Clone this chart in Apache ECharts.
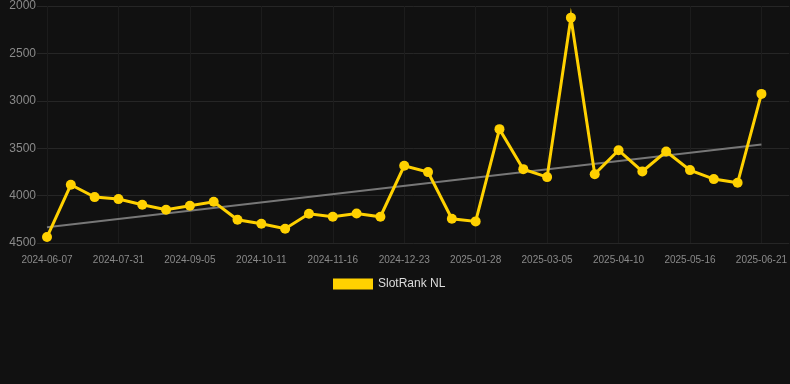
<!DOCTYPE html>
<html>
<head>
<meta charset="utf-8">
<script src="https://cdn.jsdelivr.net/npm/echarts@6/dist/echarts.min.js"></script>
<style>
html,body{margin:0;padding:0;background:#111111}
#chart{width:790px;height:384px}
</style>
</head>
<body>
<div id="chart"></div>
<script>
// categories (one per point)
let dates = [
	"2024-06-07","2024-07-07","2024-07-19","2024-07-31","2024-08-12","2024-08-24",
	"2024-09-05","2024-09-17","2024-09-29","2024-10-11","2024-10-23","2024-11-04",
	"2024-11-16","2024-11-28","2024-12-11","2024-12-23","2025-01-04","2025-01-16",
	"2025-01-28","2025-02-09","2025-02-21","2025-03-05","2025-03-17","2025-03-29",
	"2025-04-10","2025-04-22","2025-05-04","2025-05-16","2025-05-28","2025-06-09",
	"2025-06-21"
]
// rank values
let ranks = [
	4437, 3886, 4016, 4037, 4097, 4149, 4107, 4065, 4255, 4297, 4350,
	4191, 4223, 4188, 4223, 3686, 3752, 4244, 4272, 3299, 3721, 3805,
	2123, 3774, 3521, 3745, 3535, 3731, 3826, 3865, 2927
]
// trend line ends
let trendStart = 4335
let trendEnd = 3461
// axis ticks
let yTicks = [2000, 2500, 3000, 3500, 4000, 4500]
let xTickIdx = [0, 3, 6, 9, 12, 15, 18, 21, 24, 27, 30]

let chart = echarts.init(document.getElementById("chart"))
chart.setOption({
	backgroundColor: "#111111",
	animation: false,
	grid: {
		left: 37,
		right: 0,
		top: 6,
		bottom: 141
	},
	legend: {
		top: 273,
		left: 328,
		itemWidth: 40,
		itemHeight: 11,
		itemGap: 6,
		data: [{ name: "SlotRank NL", icon: "rect" }],
		textStyle: { color: "#dddddd", fontSize: 12, fontFamily: "Liberation Sans" }
	},
	xAxis: {
		type: "value",
		min: -0.42,
		max: 31.17,
		axisLine: { show: false },
		axisTick: { show: false, customValues: xTickIdx },
		splitLine: { show: true, lineStyle: { color: "#1c1c1c", width: 1 } },
		axisLabel: {
			customValues: xTickIdx,
			color: "#8a8a8a",
			fontSize: 10,
			fontFamily: "Liberation Sans",
			margin: 12,
			formatter(v) {
				return dates[Math.round(v)]
			}
		}
	},
	yAxis: {
		type: "value",
		inverse: true,
		min: yTicks[0],
		max: yTicks[yTicks.length - 1],
		interval: 500,
		axisLine: { show: false },
		axisTick: { show: false },
		splitLine: { lineStyle: { color: "#262626", width: 1 } },
		axisLabel: {
			color: "#8a8a8a",
			fontSize: 12,
			fontFamily: "Liberation Sans",
			margin: 1,
			formatter(v) {
				return String(v)
			}
		}
	},
	series: [
		{
			name: "SlotRank NL",
			type: "line",
			data: ranks.map((v, i) => [i, v]),
			color: "#ffd100",
			symbol: "circle",
			symbolSize: 10,
			lineStyle: { width: 3, color: "#ffd100", join: "miter" },
			itemStyle: { color: "#ffd100" },
			z: 3
		},
		{
			name: "trend",
			type: "line",
			data: [[0, trendStart], [dates.length - 1, trendEnd]],
			symbol: "none",
			lineStyle: { width: 2, color: "#777777" },
			z: 2
		}
	]
})
</script>
</body>
</html>
